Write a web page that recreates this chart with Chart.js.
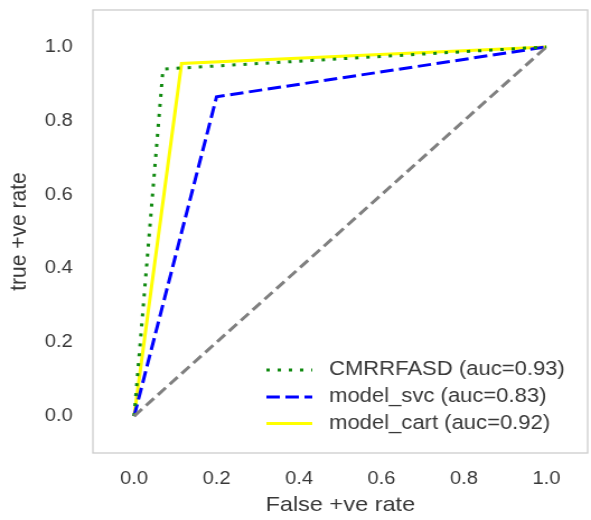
<!DOCTYPE html>
<html><head><meta charset="utf-8">
<script src="https://cdn.jsdelivr.net/npm/chart.js@4.4.0/dist/chart.umd.min.js"></script>
<style>html,body{margin:0;padding:0;background:#fff;overflow:hidden}</style>
</head><body>
<canvas id="c" width="528" height="520" style="display:block;width:591px;height:520px"></canvas>
<script>
// ---- data ----
const xTicks = [0, 0.2, 0.4, 0.6, 0.8, 1.0];
const yTicks = [0, 0.2, 0.4, 0.6, 0.8, 1.0];
const seriesNames = ['CMRRFASD (auc=0.93)', 'model_svc (auc=0.83)', 'model_cart (auc=0.92)'];
const fprCMRR = [0, 0.07, 1];
const tprCMRR = [0, 0.94, 1];
const fprSVC = [0, 0.2, 1];
const tprSVC = [0, 0.865, 1];
const fprCART = [0, 0.115, 1];
const tprCART = [0, 0.955, 1];
const diagX = [0, 1];
const diagY = [0, 1];
const xTitle = 'False +ve rate';
const yTitle = 'true +ve rate';

const pts = (xs, ys) => xs.map((x, i) => ({x: x, y: ys[i]}));
const FONT = '"Liberation Sans", Arial, sans-serif';
const TXT = '#383838';

const framePlugin = {
  id: 'frame',
  beforeDatasetsDraw(chart) {
    const {ctx, chartArea: a} = chart;
    ctx.save();
    ctx.strokeStyle = '#cccccc';
    ctx.lineWidth = 1.3;
    ctx.strokeRect(a.left, a.top, a.right - a.left, a.bottom - a.top);
    ctx.restore();
  }
};

const innerLegend = {
  id: 'innerLegend',
  afterDatasetsDraw(chart) {
    const {ctx, chartArea: a} = chart;
    const items = chart.data.datasets.filter(d => seriesNames.includes(d.label));
    const x0 = a.right - 287, x1 = a.right - 246, tx = a.right - 231;
    const rowY = [a.bottom - 83, a.bottom - 56, a.bottom - 29.5];
    ctx.save();
    items.forEach((d, i) => {
      const y = rowY[i];
      ctx.beginPath();
      ctx.setLineDash(d.borderDash || []);
      ctx.lineCap = d.borderCapStyle || 'butt';
      ctx.strokeStyle = d.borderColor;
      ctx.lineWidth = d.borderWidth;
      ctx.moveTo(x0, y); ctx.lineTo(x1, y);
      ctx.stroke();
      ctx.setLineDash([]);
      ctx.fillStyle = TXT;
      ctx.font = '19.7px ' + FONT;
      ctx.textBaseline = 'middle';
      ctx.textAlign = 'left';
      ctx.fillText(d.label, tx, y);
    });
    ctx.restore();
  }
};

new Chart(document.getElementById('c'), {
  type: 'scatter',
  data: {
    datasets: [
      {label: 'diag', data: pts(diagX, diagY), showLine: true, borderColor: '#808080', borderWidth: 3, borderDash: [10, 5], pointRadius: 0},
      {label: seriesNames[0], data: pts(fprCMRR, tprCMRR), showLine: true, borderColor: '#108a10', borderWidth: 3, borderDash: [3, 7], pointRadius: 0},
      {label: seriesNames[1], data: pts(fprSVC, tprSVC), showLine: true, borderColor: '#0000ff', borderWidth: 3, borderDash: [12, 5], pointRadius: 0},
      {label: seriesNames[2], data: pts(fprCART, tprCART), showLine: true, borderColor: '#ffff00', borderWidth: 3, pointRadius: 0}
    ]
  },
  options: {
    responsive: false,
    animation: false,
    devicePixelRatio: 1,
    layout: {padding: {top: 10, right: 3, left: 0, bottom: 0}},
    plugins: {legend: {display: false}, tooltip: {enabled: false}},
    scales: {
      x: {
        type: 'linear', min: -0.1, max: 1.1,
        grid: {display: false, drawTicks: false},
        border: {display: false},
        afterBuildTicks: s => { s.ticks = xTicks.map(v => ({value: v})); },
        afterFit: s => { s.height = 67; s.paddingLeft = 0; s.paddingRight = 0; },
        ticks: {callback: v => Number(v).toFixed(1), color: TXT, font: {family: FONT, size: 18}, padding: 15, maxRotation: 0},
        title: {display: true, text: xTitle, color: TXT, font: {family: FONT, size: 21}, padding: {top: 0, bottom: 2}}
      },
      y: {
        type: 'linear', min: -0.1, max: 1.1,
        grid: {display: false, drawTicks: false},
        border: {display: false},
        afterBuildTicks: s => { s.ticks = yTicks.map(v => ({value: v})); },
        afterFit: s => { s.width = 83; s.paddingTop = 0; s.paddingBottom = 0; },
        ticks: {callback: v => Number(v).toFixed(1), color: TXT, font: {family: FONT, size: 18}, padding: 18},
        title: {display: true, text: yTitle, color: TXT, font: {family: FONT, size: 21}, padding: {top: 5, bottom: 0}}
      }
    }
  },
  plugins: [framePlugin, innerLegend]
});
</script>
</body></html>
